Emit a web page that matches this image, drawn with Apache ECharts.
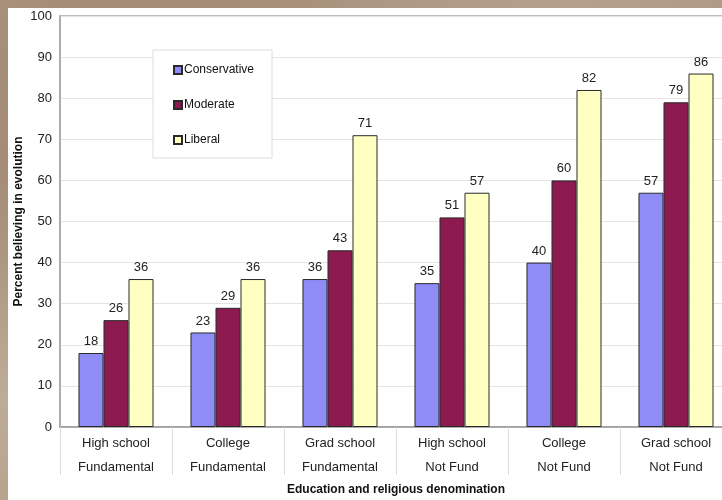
<!DOCTYPE html>
<html>
<head>
<meta charset="utf-8">
<title>Percent believing in evolution</title>
<script src="https://cdn.jsdelivr.net/npm/echarts@6/dist/echarts.min.js"></script>
<style>
  html, body { margin: 0; padding: 0; }
  body {
    width: 722px; height: 500px; overflow: hidden; position: relative;
    background:
      radial-gradient(circle at 20% 30%, rgba(150,120,95,0.6) 0, rgba(150,120,95,0) 40%),
      radial-gradient(circle at 80% 10%, rgba(190,170,150,0.6) 0, rgba(190,170,150,0) 35%),
      radial-gradient(circle at 5% 80%, rgba(200,185,165,0.7) 0, rgba(200,185,165,0) 30%),
      #aa9580;
  }
  /* the plot runs a little past the right edge of the page */
  #chart {
    position: absolute; left: 8px; top: 8px; width: 730px; height: 492px;
    background: #ffffff;
  }
</style>
</head>
<body>
<div id="chart"></div>
<script>
// Groups: education level + religious denomination
const education = ['High school', 'College', 'Grad school', 'High school', 'College', 'Grad school'];
const denomination = ['Fundamental', 'Fundamental', 'Fundamental', 'Not Fund', 'Not Fund', 'Not Fund'];

// Percent believing in evolution, by political leaning
const conservative = [18, 23, 36, 35, 40, 57];
const moderate = [26, 29, 43, 51, 60, 79];
const liberal = [36, 36, 71, 57, 82, 86];

const yTicks = [0, 10, 20, 30, 40, 50, 60, 70, 80, 90, 100];

const categories = education.map((e, i) => e + '\n' + denomination[i]);
const fontFamily = '"Liberation Sans", Arial, Helvetica, sans-serif';

const chart = echarts.init(document.getElementById('chart'), null, { renderer: 'canvas' });

function barSeries(name, data, color) {
  return {
    name: name,
    type: 'bar',
    data: data,
    barGap: '0%',
    barCategoryGap: '33%',
    itemStyle: { color: color, borderColor: '#2a2a2a', borderWidth: 1 },
    label: {
      show: true, position: 'top', distance: 5,
      color: '#222', fontSize: 13, fontFamily: fontFamily
    },
    emphasis: { disabled: true }
  };
}

chart.setOption({
  animation: false,
  textStyle: { fontFamily: fontFamily },
  grid: {
    left: 52, top: 8, right: 6, bottom: 73,
    outerBoundsMode: 'none',
    containLabel: false,
    show: true, borderColor: '#a8a8a8', borderWidth: 1.5, backgroundColor: 'transparent'
  },
  legend: {
    orient: 'vertical',
    left: 145, top: 42,
    padding: [13, 18, 11, 20],
    itemGap: 21,
    itemWidth: 8, itemHeight: 8,
    backgroundColor: '#ffffff',
    borderColor: '#dddddd', borderWidth: 1,
    icon: 'rect',
    textStyle: { fontSize: 12, lineHeight: 14, color: '#111', fontFamily: fontFamily, padding: [0, 0, 0, -3] },
    selectedMode: false,
    data: ['Conservative', 'Moderate', 'Liberal']
  },
  xAxis: {
    type: 'category',
    data: categories,
    name: 'Education and religious denomination',
    nameLocation: 'middle',
    nameGap: 57,
    nameMoveOverlap: false,
    nameTextStyle: { fontWeight: 'bold', fontSize: 12, color: '#111', fontFamily: fontFamily },
    axisLine: { lineStyle: { color: '#999', width: 1.5 } },
    axisTick: { show: true, length: 48, lineStyle: { color: '#dcdcdc' } },
    axisLabel: {
      interval: 0, margin: 4, lineHeight: 24,
      fontSize: 13, color: '#222', fontFamily: fontFamily
    }
  },
  yAxis: {
    type: 'value',
    min: yTicks[0], max: yTicks[yTicks.length - 1], interval: 10,
    name: 'Percent believing in evolution',
    nameLocation: 'middle',
    nameGap: 35,
    nameMoveOverlap: false,
    nameTextStyle: { fontWeight: 'bold', fontSize: 12, color: '#111', fontFamily: fontFamily },
    axisLine: { show: true, lineStyle: { color: '#a8a8a8', width: 1.5 } },
    axisTick: { show: false },
    axisLabel: { margin: 8, fontSize: 13, color: '#222', fontFamily: fontFamily },
    splitLine: { lineStyle: { color: '#e4e4e4' } }
  },
  series: [
    barSeries('Conservative', conservative, '#8f8cf7'),
    barSeries('Moderate', moderate, '#8c1a4e'),
    barSeries('Liberal', liberal, '#ffffc2')
  ]
});
</script>
</body>
</html>
